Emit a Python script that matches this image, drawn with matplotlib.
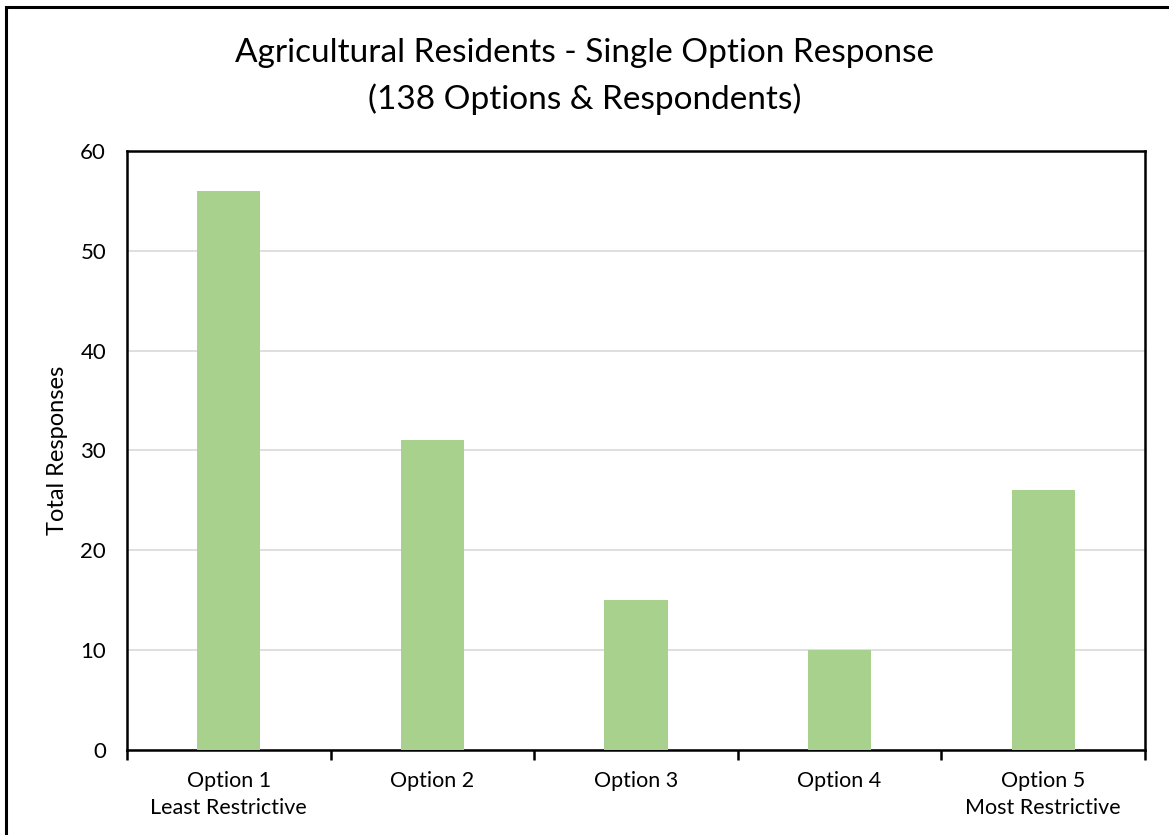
"""Agricultural residents - single option response bar chart."""
import matplotlib
matplotlib.use("Agg")
import matplotlib.pyplot as plt
from matplotlib.patches import Rectangle
import numpy as np

plt.rcParams["font.family"] = ["Lato", "DejaVu Sans"]

options = ["Option 1\nLeast Restrictive", "Option 2", "Option 3", "Option 4",
           "Option 5\nMost Restrictive"]
responses = [56, 31, 15, 10, 26]
y_ticks = [0, 10, 20, 30, 40, 50, 60]

BAR_COLOR = "#A9D18E"
GRID_COLOR = "#D9D9D9"

fig = plt.figure(figsize=(11.69, 8.35), dpi=100)
ax = fig.add_axes([0.1086, 0.1018, 0.8709, 0.7174])

x = np.arange(len(options))
ax.bar(x, responses, width=0.31, color=BAR_COLOR, zorder=3)

ax.set_xlim(-0.5, len(options) - 0.5)
ax.set_ylim(0, 60)
ax.set_yticks(y_ticks)
ax.yaxis.grid(True, color=GRID_COLOR, linewidth=1.2, zorder=0)
ax.set_axisbelow(True)

# category labels centred, ticks at boundaries
ax.set_xticks(x)
ax.set_xticklabels(options, fontsize=15.5, linespacing=1.45, va="top")
ax.tick_params(axis="x", length=0, pad=15)
ax.set_xticks(np.arange(len(options) + 1) - 0.5, minor=True)
ax.tick_params(axis="x", which="minor", length=7, width=1.8, color="black")
ax.tick_params(axis="y", length=0, labelsize=16, pad=15)

for s in ax.spines.values():
    s.set_color("black")
    s.set_linewidth(1.8)

ax.set_ylabel("Total Responses", fontsize=17, labelpad=9)

fig.text(0.5, 0.936, "Agricultural Residents - Single Option Response",
         ha="center", va="center", fontsize=24)
fig.text(0.5, 0.881, "(138 Options & Respondents)",
         ha="center", va="center", fontsize=24)

# outer chart border (cropped at right/bottom in the original)
fig.patches.append(Rectangle((6 / 1169, -0.05), 1.2, 1 - 7 / 835 + 0.05,
                             transform=fig.transFigure, fill=False,
                             edgecolor="black", linewidth=2.2))

fig.savefig("out.png", dpi=100)
